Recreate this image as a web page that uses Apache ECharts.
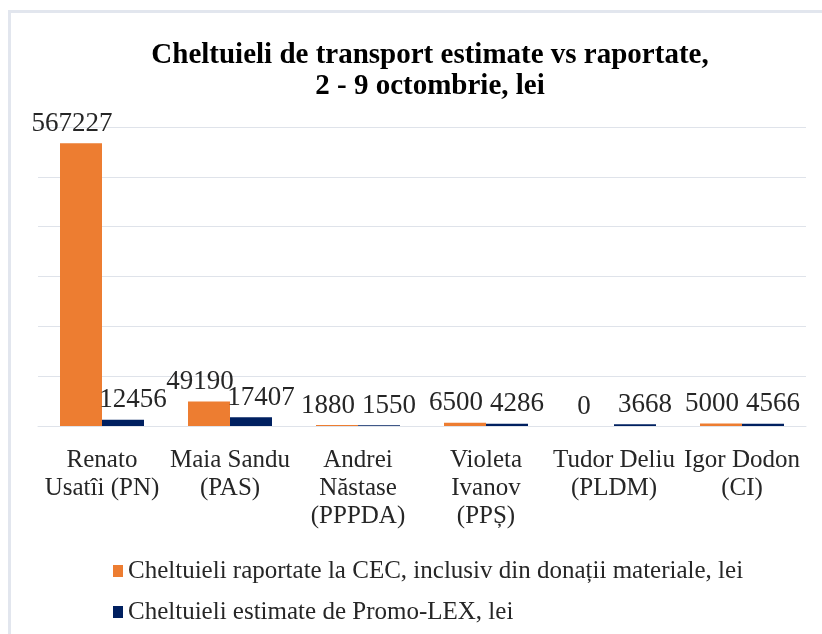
<!DOCTYPE html>
<html>
<head>
<meta charset="utf-8">
<script src="https://cdn.jsdelivr.net/npm/echarts@6/dist/echarts.min.js"></script>
<style>
  html, body { margin: 0; padding: 0; background: #fff; }
  #chart { width: 822px; height: 634px; }
</style>
</head>
<body>
<div id="chart"></div>
<script>
  // date din grafic
  const categories = [
    'Renato\nUsatîi (PN)',
    'Maia Sandu\n(PAS)',
    'Andrei\nNăstase\n(PPPDA)',
    'Violeta\nIvanov\n(PPȘ)',
    'Tudor Deliu\n(PLDM)',
    'Igor Dodon\n(CI)'
  ]
  const reportedCEC = [567227, 49190, 1880, 6500, 0, 5000]
  const estimatedPromoLex = [12456, 17407, 1550, 4286, 3668, 4566]
  const seriesNames = [
    'Cheltuieli raportate la CEC, inclusiv din donații materiale, lei',
    'Cheltuieli estimate de Promo-LEX, lei'
  ]

  const serif = '"Liberation Serif", "DejaVu Serif", serif'
  const chart = echarts.init(document.getElementById('chart'))

  const labelStyle = (dx) => ({
    show: true,
    position: 'top',
    distance: 6,
    offset: [dx, 0],
    fontFamily: serif,
    fontSize: 27,
    color: '#262626'
  })

  chart.setOption({
    animation: false,
    graphic: [
      { type: 'rect', shape: { x: 8, y: 10, width: 3, height: 624 }, style: { fill: '#e2e6ee' } },
      { type: 'rect', shape: { x: 8, y: 10, width: 814, height: 3 }, style: { fill: '#e2e6ee' } }
    ],
    title: {
      text: 'Cheltuieli de transport estimate vs raportate,\n2 - 9 octombrie, lei',
      left: 425,
      top: 35,
      textAlign: 'center',
      textStyle: {
        fontFamily: serif,
        fontWeight: 'bold',
        fontSize: 29,
        lineHeight: 31,
        color: '#000'
      }
    },
    legend: {
      orient: 'vertical',
      left: 108,
      top: 553,
      itemWidth: 10,
      itemHeight: 12,
      itemGap: 15,
      icon: 'rect',
      textStyle: {
        fontFamily: serif,
        fontSize: 25,
        lineHeight: 26,
        color: '#262626'
      }
    },
    grid: {
      left: 38,
      right: 16,
      top: 127,
      bottom: 208
    },
    xAxis: {
      type: 'category',
      data: categories,
      axisTick: { show: false },
      axisLine: { lineStyle: { color: '#dfe3ea' } },
      axisLabel: {
        interval: 0,
        margin: 20,
        fontFamily: serif,
        fontSize: 25,
        lineHeight: 28,
        color: '#262626'
      }
    },
    yAxis: {
      type: 'value',
      min: 0,
      max: 600000,
      interval: 100000,
      axisLabel: { show: false },
      axisLine: { show: false },
      axisTick: { show: false },
      splitLine: { lineStyle: { color: '#dfe3ea', width: 1 } }
    },
    series: [
      {
        name: seriesNames[0],
        type: 'bar',
        data: reportedCEC,
        barWidth: 42,
        barGap: '0%',
        itemStyle: { color: '#ed7d31' },
        label: labelStyle(-9)
      },
      {
        name: seriesNames[1],
        type: 'bar',
        data: estimatedPromoLex,
        barWidth: 42,
        itemStyle: { color: '#002060' },
        label: labelStyle(10)
      }
    ]
  })
</script>
</body>
</html>
